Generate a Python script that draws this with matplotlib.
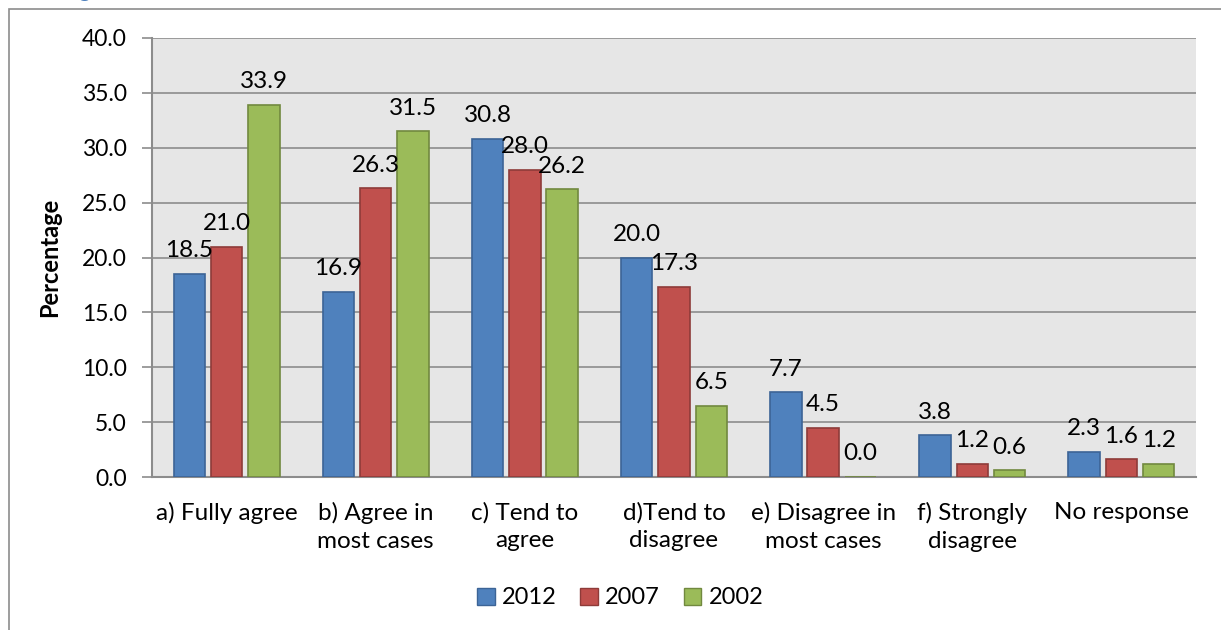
import numpy as np
import matplotlib
matplotlib.use('Agg')
import matplotlib.pyplot as plt
from matplotlib.patches import Rectangle, Patch

# data
categories = ['a) Fully agree', 'b) Agree in\nmost cases', 'c) Tend to\nagree', 'd)Tend to\ndisagree',
              'e) Disagree in\nmost cases', 'f) Strongly\ndisagree', 'No response']
years = ['2012', '2007', '2002']
vals_2012 = [18.5, 16.9, 30.8, 20.0, 7.7, 3.8, 2.3]
vals_2007 = [21.0, 26.3, 28.0, 17.3, 4.5, 1.2, 1.6]
vals_2002 = [33.9, 31.5, 26.2, 6.5, 0.0, 0.6, 1.2]
y_ticks = [0, 5, 10, 15, 20, 25, 30, 35, 40]

fill_cols = ['#4F81BD', '#C0504D', '#9BBB59']
edge_cols = ['#3C6496', '#8E3B39', '#71893F']

plt.rcParams['font.family'] = ['Lato', 'DejaVu Sans']

fig = plt.figure(figsize=(12.21, 6.3), dpi=100)
ax = fig.add_axes([152/1221, 1 - 477/630, (1196-152)/1221, (477-38)/630])
ax.set_facecolor('#E6E6E6')

x = np.arange(len(categories))
step = 0.25
width = 0.21
series = [vals_2012, vals_2007, vals_2002]
for i, vals in enumerate(series):
    xs = x + (i - 1) * step
    ax.bar(xs, vals, width, color=fill_cols[i], edgecolor=edge_cols[i], linewidth=1.2,
           zorder=3, label=years[i])
    for xi, v in zip(xs, vals):
        ax.annotate('%.1f' % v, (xi, v), xytext=(0, 12), textcoords='offset points',
                    ha='center', va='baseline', fontsize=17.5, color='black', zorder=4)

ax.set_xlim(-0.5, len(categories) - 0.5)
ax.set_ylim(0, 40)
ax.set_yticks(y_ticks)
ax.set_yticklabels(['%.1f' % t for t in y_ticks], fontsize=16.5)
ax.set_xticks(x)
ax.set_xticklabels(categories, fontsize=17.5, linespacing=1.4)
ax.tick_params(axis='x', length=0, pad=18)
ax.tick_params(axis='y', length=7, width=1.2, color='#8C8C8C', pad=11)
ax.yaxis.grid(True, color='#8C8C8C', linewidth=1.2, zorder=0)
ax.set_axisbelow(True)
for s in ['top', 'right']:
    ax.spines[s].set_visible(False)
for s in ['left', 'bottom']:
    ax.spines[s].set_color('#8C8C8C')
    ax.spines[s].set_linewidth(1.5)
ax.set_ylabel('Percentage', fontsize=17, fontweight='bold')
ax.yaxis.set_label_coords(-(152-61)/1044, 0.5)

handles = [Patch(facecolor=fill_cols[i], edgecolor=edge_cols[i], label=years[i]) for i in range(3)]
fig.legend(handles=handles, loc='center', bbox_to_anchor=(0.508, 1 - 598/630), ncol=3,
           frameon=False, fontsize=17, handlelength=0.75, handleheight=0.75,
           handletextpad=0.3, columnspacing=1.0)

# outer chart border, running off the picture
fig.patches.append(Rectangle((9/1221, -0.1), 1.2, 1 - 9/630 + 0.1, transform=fig.transFigure,
                             fill=False, edgecolor='#8C8C8C', linewidth=1.2))
# cut-off heading above the chart
fig.text(78/1221, 1.004, 'g', color='#4F81BD', fontsize=16, va='baseline')

fig.savefig('out.png', dpi=100)
